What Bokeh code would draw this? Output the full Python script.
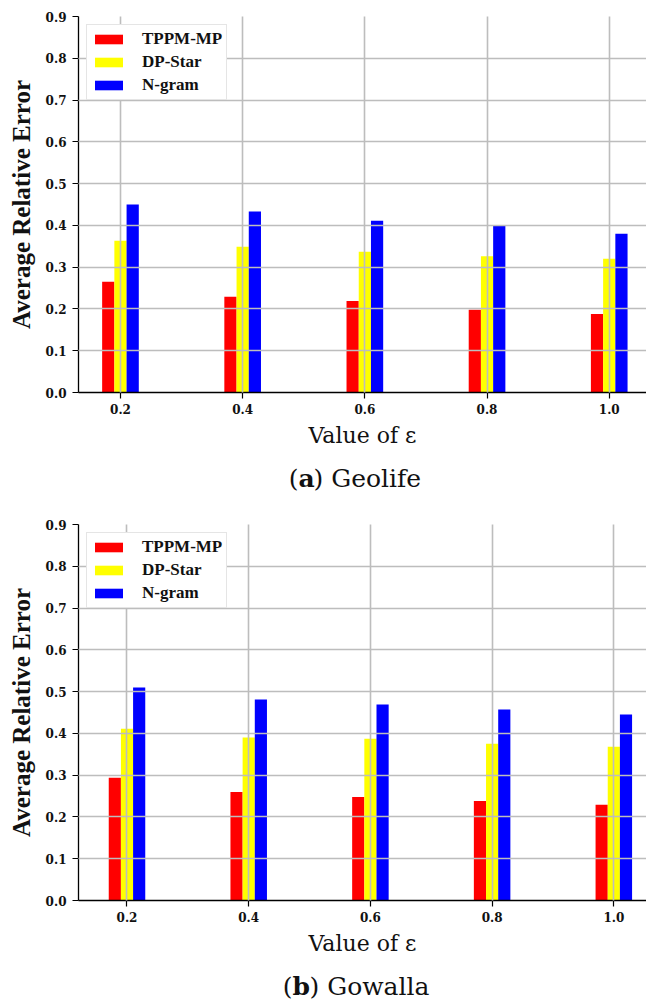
from bokeh.plotting import figure
from bokeh.models import Range1d, FixedTicker, PrintfTickFormatter, ColumnDataSource
from bokeh.layouts import column
from bokeh.transform import dodge
from bokeh.core.properties import value
from bokeh.embed import file_html
from bokeh.resources import INLINE

# ---- data ----
eps = [0.2, 0.4, 0.6, 0.8, 1.0]
geolife_tppm = [0.265, 0.229, 0.219, 0.198, 0.188]
geolife_dpstar = [0.363, 0.349, 0.337, 0.326, 0.320]
geolife_ngram = [0.450, 0.433, 0.411, 0.400, 0.380]
gowalla_tppm = [0.294, 0.260, 0.248, 0.238, 0.229]
gowalla_dpstar = [0.411, 0.390, 0.387, 0.375, 0.368]
gowalla_ngram = [0.510, 0.481, 0.469, 0.457, 0.445]
methods = ["TPPM-MP", "DP-Star", "N-gram"]
colors = ["#ff0000", "#ffff00", "#0000ff"]
y_ticks = [0.0, 0.1, 0.2, 0.3, 0.4, 0.5, 0.6, 0.7, 0.8, 0.9]
captions = [("a", "Geolife"), ("b", "Gowalla")]

SERIF = "Liberation Serif"
CAP = "DejaVu Serif"
LEFT = 78


def make(tppm, dps, ngram, height, b_top, b_bottom, x_start, x_end):
    src = ColumnDataSource(dict(eps=eps, a=tppm, b=dps, c=ngram))
    p = figure(width=646, height=height, output_backend="svg",
               toolbar_location=None,
               x_range=Range1d(x_start, x_end), y_range=Range1d(0, 0.9),
               min_border_left=LEFT, min_border_top=b_top,
               min_border_bottom=b_bottom, min_border_right=0)
    p.outline_line_color = None
    bw = 0.02
    for col, off, m, c in zip(["a", "b", "c"], [-bw, 0, bw], methods, colors):
        p.vbar(x=dodge("eps", off), top=col, width=bw, source=src,
               fill_color=c, line_color=None, legend_label=m)

    for ax in (p.xaxis[0], p.yaxis[0]):
        ax.axis_line_color = "black"
        ax.axis_line_width = 1.3
        ax.major_tick_out = 6
        ax.major_tick_in = 0
        ax.major_tick_line_width = 1.2
        ax.minor_tick_line_color = None
        ax.major_label_text_font = CAP
        ax.major_label_text_font_style = "bold"
        ax.major_label_text_font_size = "12px"
        ax.major_label_text_color = "#111111"
        ax.formatter = PrintfTickFormatter(format="%.1f")
    p.xaxis.ticker = FixedTicker(ticks=eps)
    p.yaxis.ticker = FixedTicker(ticks=y_ticks)
    p.xaxis.major_label_standoff = 5
    p.yaxis.major_label_standoff = 6
    p.xaxis.axis_label = "Value of ε"
    p.xaxis.axis_label_text_font = CAP
    p.xaxis.axis_label_text_font_style = "normal"
    p.xaxis.axis_label_text_font_size = "22px"
    p.xaxis.axis_label_text_color = "#111111"
    p.xaxis.axis_label_standoff = 6
    p.yaxis.axis_label = "Average Relative Error"
    p.yaxis.axis_label_text_font = SERIF
    p.yaxis.axis_label_text_font_style = "bold"
    p.yaxis.axis_label_text_font_size = "25px"
    p.yaxis.axis_label_text_color = "#111111"
    p.yaxis.axis_label_standoff = 8

    for g in (p.xgrid[0], p.ygrid[0]):
        g.grid_line_color = "#bdbdbd"
        g.grid_line_width = 1.6
        g.level = "guide"
    p.xgrid.ticker = FixedTicker(ticks=eps)
    p.ygrid.ticker = FixedTicker(ticks=y_ticks)

    lg = p.legend[0]
    lg.location = "top_left"
    lg.margin = 8
    lg.padding = 4
    lg.spacing = 3
    lg.glyph_width = 35
    lg.glyph_height = 12
    lg.label_height = 14
    lg.label_standoff = 16
    lg.label_text_font = SERIF
    lg.label_text_font_style = "bold"
    lg.label_text_font_size = "17px"
    lg.label_text_color = "#111111"
    lg.border_line_color = "#cccccc"
    lg.border_line_width = 1
    lg.background_fill_alpha = 1
    return p


def caption(letter, name, height, x_paren, x_rest, y_base):
    # caption strip: its frame starts at LEFT, so data x equals page pixels
    c = figure(width=646, height=height, output_backend="svg",
               toolbar_location=None, x_axis_type=None, y_axis_type=None,
               x_range=Range1d(LEFT, 646), y_range=Range1d(0, height),
               min_border_left=LEFT, min_border_right=0,
               min_border_top=0, min_border_bottom=0)
    c.outline_line_color = None
    common = dict(y=[y_base], text_font=value(CAP), text_font_size="25px",
                  text_baseline="alphabetic", text_color="#111111")
    c.text(x=[x_paren], text=["("], text_align="right", **common)
    c.text(x=[x_paren], text=[letter], text_align="left",
           text_font_style="bold", **common)
    c.text(x=[x_rest], text=[") " + name], text_align="left", **common)
    return c


p1 = make(geolife_tppm, geolife_dpstar, geolife_ngram, 456, 16, 64, 0.1313, 1.061)
c1 = caption(captions[0][0], captions[0][1], 44, 298, 313, 22)
p2 = make(gowalla_tppm, gowalla_dpstar, gowalla_ngram, 464, 24, 64, 0.1203, 1.0537)
c2 = caption(captions[1][0], captions[1][1], 39, 292, 309, 17)

layout = column(p1, c1, p2, c2, spacing=0)
open("out.html", "w").write(file_html(layout, INLINE))
